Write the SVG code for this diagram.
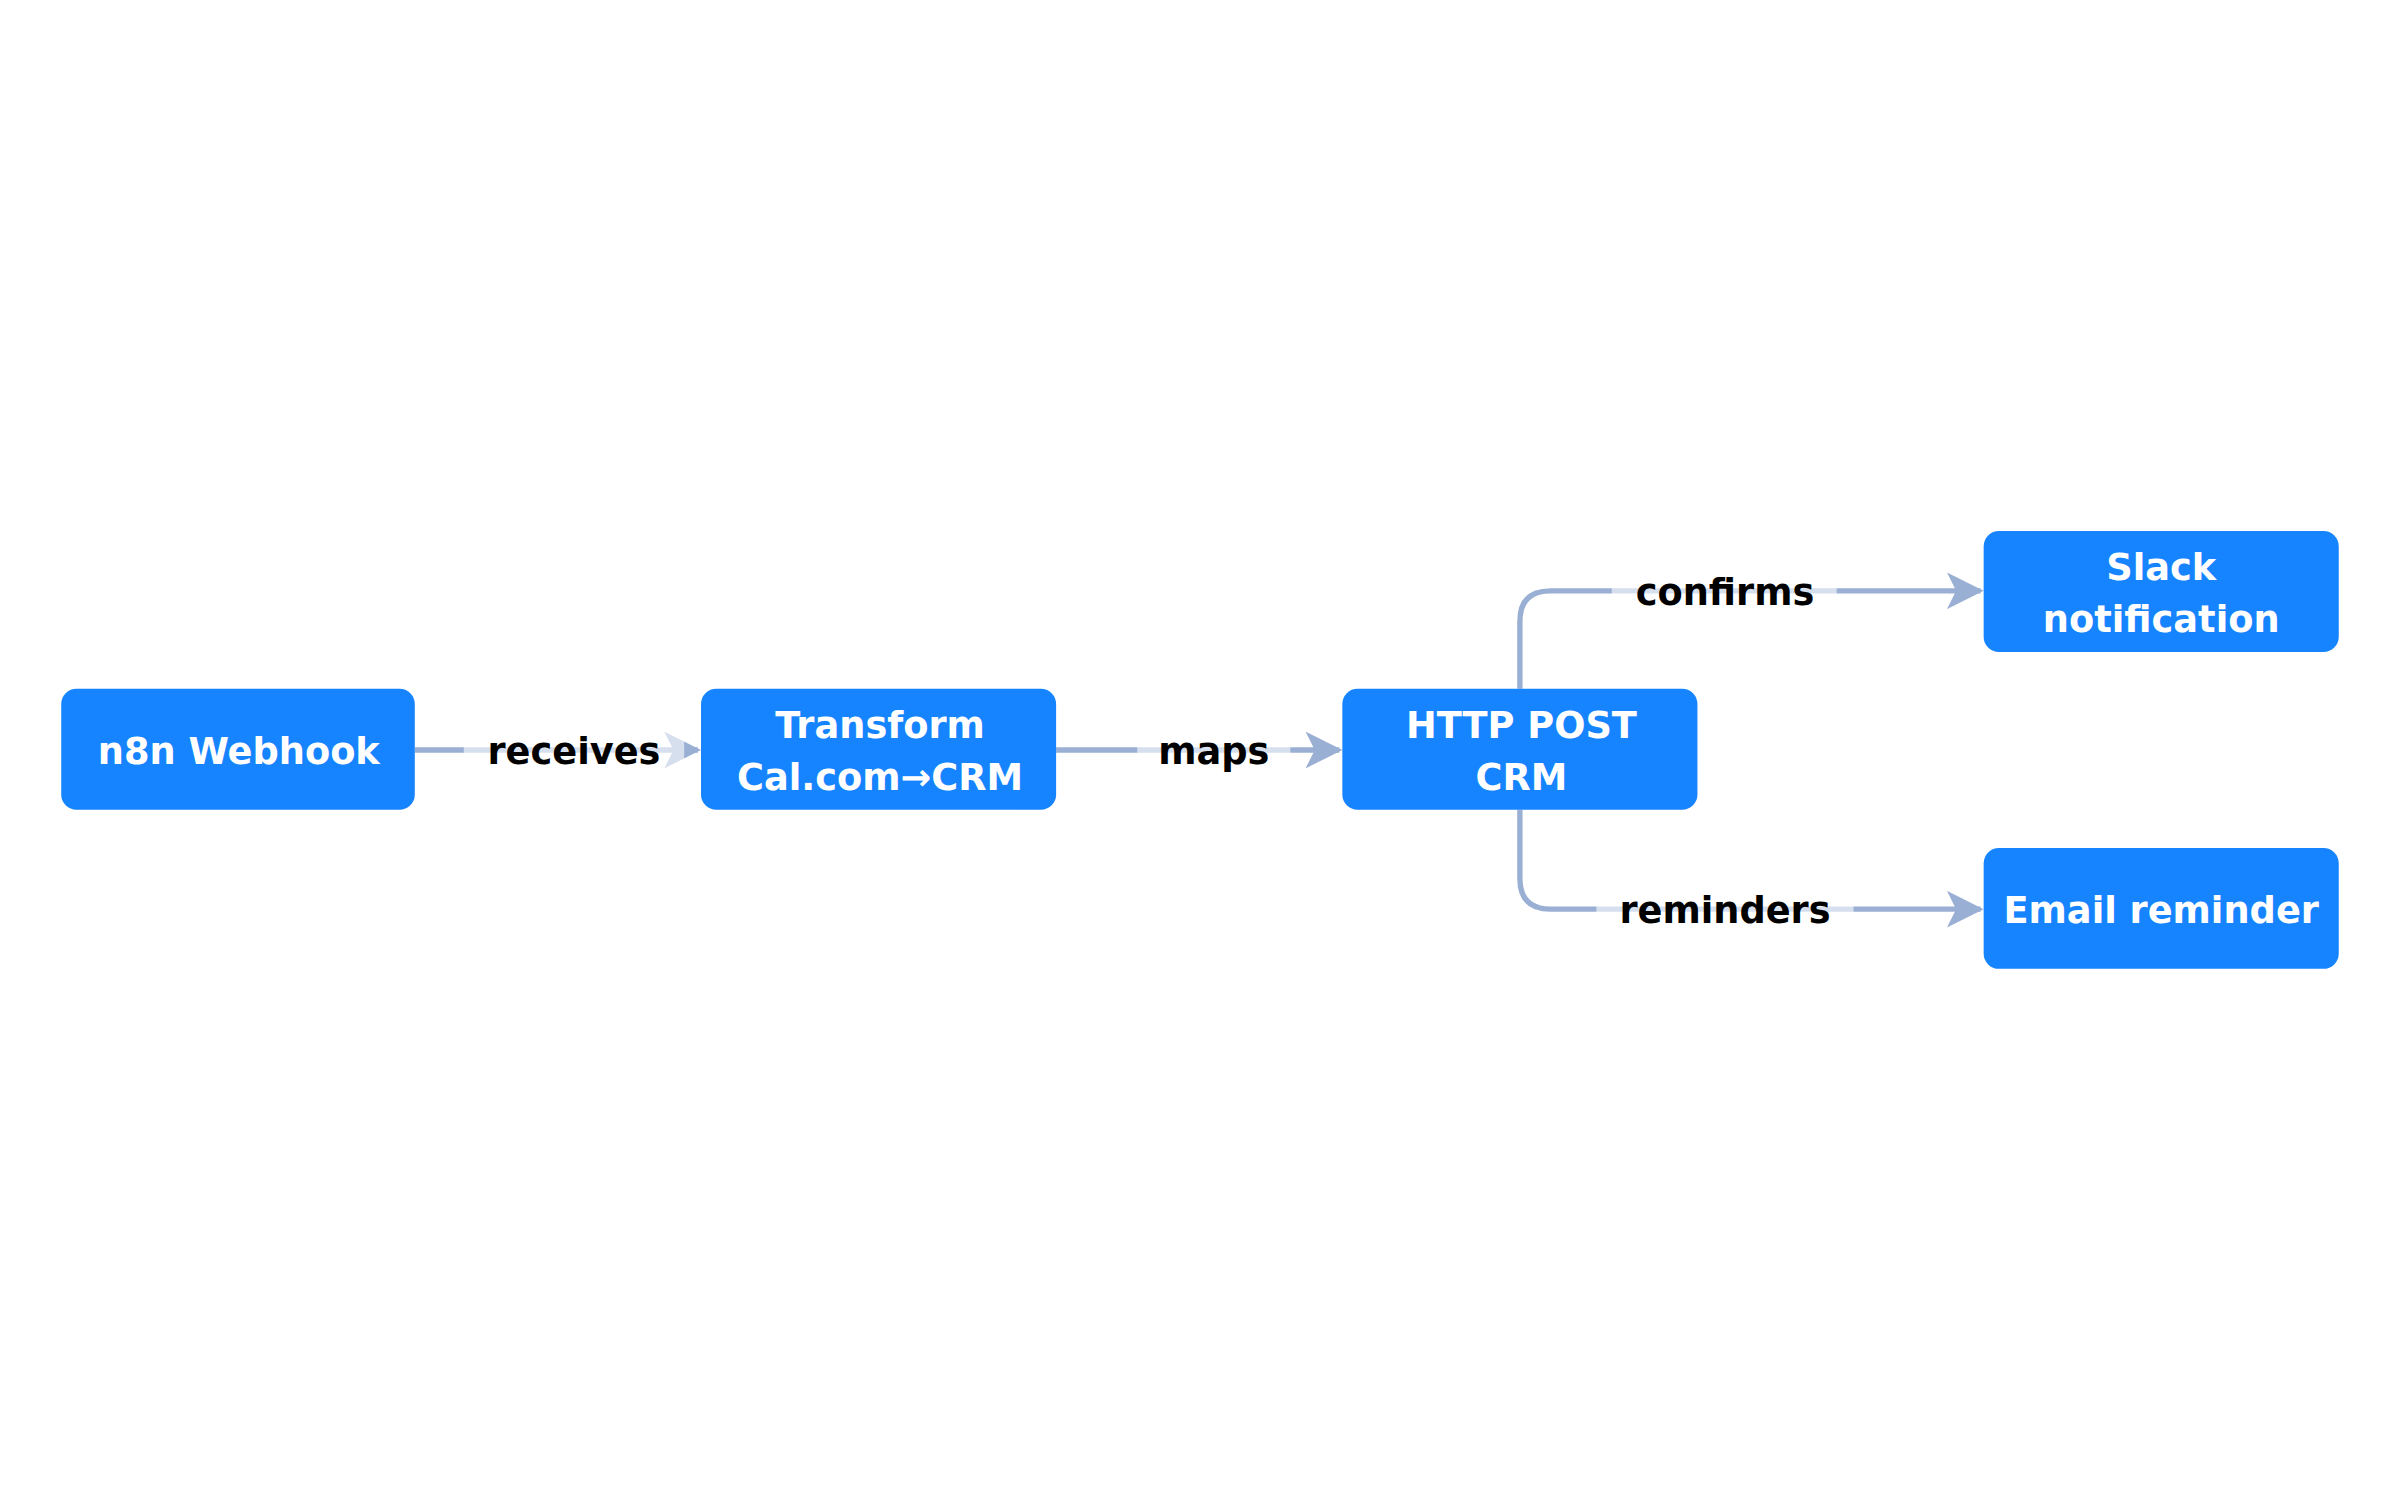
<svg xmlns="http://www.w3.org/2000/svg" width="2400" height="1500" viewBox="0 0 2400 1500">
<style>
.n{fill:#1784ff}
.t{fill:#fff;font-family:"DejaVu Sans",sans-serif;font-weight:bold;font-size:24px;text-anchor:middle}
.e{fill:none;stroke:#9aafd4;stroke-width:3.5}
.lb{fill:#fff;opacity:0.6}
.l{fill:#000;font-family:"DejaVu Sans",sans-serif;font-weight:bold;font-size:24px;text-anchor:middle}
</style>
<defs><marker id="a" viewBox="0 0 12 12" refX="11" refY="6" markerWidth="7" markerHeight="7" markerUnits="userSpaceOnUse" orient="auto"><path d="M0,0L12,6L0,12L3,6Z" fill="#9aafd4"/></marker>
<marker id="ah" viewBox="0 0 12 12" refX="11" refY="6" markerWidth="24" markerHeight="24" markerUnits="userSpaceOnUse" orient="auto"><path d="M0,0L12,6L0,12L3,6Z" fill="#9aafd4"/></marker></defs>
<rect width="2400" height="1500" fill="#fff"/>
<g transform="scale(1.5306)">
<g id="edges">
<path class="e" d="M271,490H456" marker-end="url(#ah)"/>
<path class="e" d="M690,490H875" marker-end="url(#ah)"/>
<path class="e" d="M993,450V406Q993,386 1013,386H1294" marker-end="url(#ah)"/>
<path class="e" d="M993,529V574Q993,594 1013,594H1294" marker-end="url(#ah)"/>
<rect class="lb" x="303" y="476" width="144" height="30"/><text class="l" x="375" y="499">receives</text>
<rect class="lb" x="743" y="476" width="100" height="30"/><text class="l" x="793" y="499">maps</text>
<rect class="lb" x="1053" y="372" width="147" height="30"/><text class="l" x="1127" y="395">confirms</text>
<rect class="lb" x="1043" y="580" width="168" height="30"/><text class="l" x="1127" y="603">reminders</text>
</g>
<g id="webhook"><rect class="n" x="40" y="450" width="231" height="79" rx="10"/><text class="t" x="156" y="499">n8n Webhook</text></g>
<g id="transform"><rect class="n" x="458" y="450" width="232" height="79" rx="10"/><text class="t" x="575" y="482">Transform</text><text class="t" x="575" y="516">Cal.com→CRM</text></g>
<g id="http"><rect class="n" x="877" y="450" width="232" height="79" rx="10"/><text class="t" x="994" y="482">HTTP POST</text><text class="t" x="994" y="516">CRM</text></g>
<g id="slack"><rect class="n" x="1296" y="347" width="232" height="79" rx="10"/><text class="t" x="1412" y="379">Slack</text><text class="t" x="1412" y="413">notification</text></g>
<g id="email"><rect class="n" x="1296" y="554" width="232" height="79" rx="10"/><text class="t" x="1412" y="603">Email reminder</text></g>
</g>
</svg>
